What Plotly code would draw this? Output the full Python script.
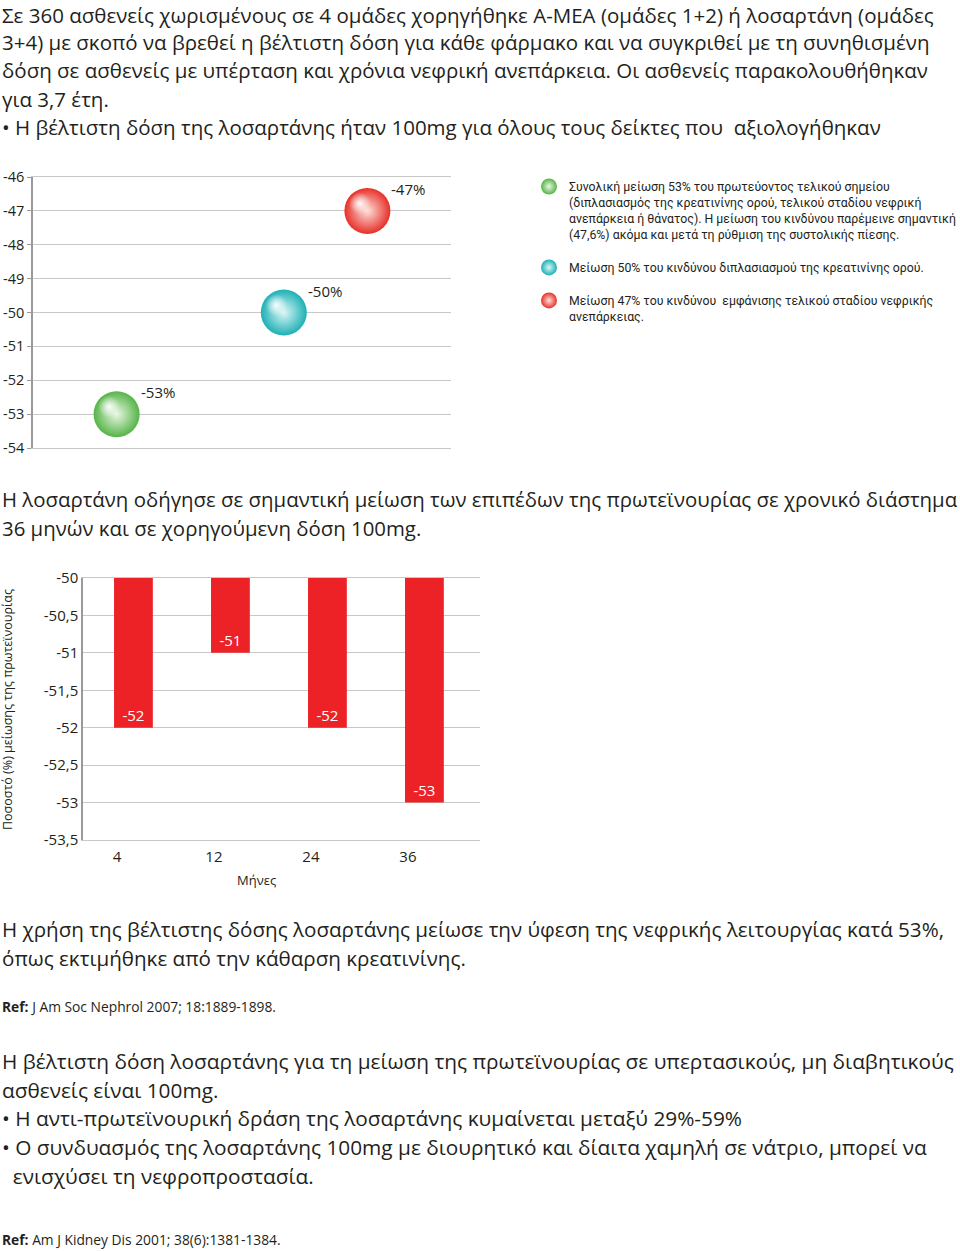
import plotly.graph_objects as go

W, H = 960, 1251
BODY_FONT = "Open Sans"
TEXT_COLOR = "#231f20"

# ---------------- data: chart 1 (outcome reductions) ----------------
outcome_x = [1, 3, 4]
outcome_vals = [-53, -50, -47]
outcome_labels = ["-53%", "-50%", "-47%"]
outcome_names = [
    "Συνολική μείωση 53% του πρωτεύοντος τελικού σημείου<br>"
    "(διπλασιασμός της κρεατινίνης ορού, τελικού σταδίου νεφρική<br>"
    "ανεπάρκεια ή θάνατος). Η μείωση του κινδύνου παρέμεινε σημαντική<br>"
    "(47,6%) ακόμα και μετά τη ρύθμιση της συστολικής πίεσης.",
    "Μείωση 50% του κινδύνου διπλασιασμού της κρεατινίνης ορού.",
    "Μείωση 47% του κινδύνου  εμφάνισης τελικού σταδίου νεφρικής<br>ανεπάρκειας.",
]
chart1_tickvals = [-46, -47, -48, -49, -50, -51, -52, -53, -54]
chart1_ticktext = ["-46", "-47", "-48", "-49", "-50", "-51", "-52", "-53", "-54"]

# ---------------- data: chart 2 (proteinuria reduction) ----------------
months = ["4", "12", "24", "36"]
proteinuria = [-52, -51, -52, -53]
bar_labels = ["-52", "-51", "-52", "-53"]
chart2_tickvals = [-50, -50.5, -51, -51.5, -52, -52.5, -53, -53.5]
chart2_ticktext = ["-50", "-50,5", "-51", "-51,5", "-52", "-52,5", "-53", "-53,5"]

# ---------------- text blocks ----------------
top_lines = [
    "Σε 360 ασθενείς χωρισμένους σε 4 ομάδες χορηγήθηκε Α-ΜΕΑ (ομάδες 1+2) ή λοσαρτάνη (ομάδες",
    "3+4) με σκοπό να βρεθεί η βέλτιστη δόση για κάθε φάρμακο και να συγκριθεί με τη συνηθισμένη",
    "δόση σε ασθενείς με υπέρταση και χρόνια νεφρική ανεπάρκεια. Οι ασθενείς παρακολουθήθηκαν",
    "για 3,7 έτη.",
    "• Η βέλτιστη δόση της λοσαρτάνης ήταν 100mg για όλους τους δείκτες που  αξιολογήθηκαν",
]
mid_lines = [
    "Η λοσαρτάνη οδήγησε σε σημαντική μείωση των επιπέδων της πρωτεϊνουρίας σε χρονικό διάστημα",
    "36 μηνών και σε χορηγούμενη δόση 100mg.",
]
low_lines = [
    "Η χρήση της βέλτιστης δόσης λοσαρτάνης μείωσε την ύφεση της νεφρικής λειτουργίας κατά 53%,",
    "όπως εκτιμήθηκε από την κάθαρση κρεατινίνης.",
]
ref1 = "<b>Ref:</b> J Am Soc Nephrol 2007; 18:1889-1898."
bottom_lines = [
    "Η βέλτιστη δόση λοσαρτάνης για τη μείωση της πρωτεϊνουρίας σε υπερτασικούς, μη διαβητικούς",
    "ασθενείς είναι 100mg.",
    "• Η αντι-πρωτεϊνουρική δράση της λοσαρτάνης κυμαίνεται μεταξύ 29%-59%",
    "• Ο συνδυασμός της λοσαρτάνης 100mg με διουρητικό και δίαιτα χαμηλή σε νάτριο, μπορεί να",
    "  ενισχύσει τη νεφροπροστασία.",
]
ref2 = "<b>Ref:</b> Am J Kidney Dis 2001; 38(6):1381-1384."

# ---------------- styles ----------------
sphere_edge = ["#55b447", "#1db0b5", "#e63029"]
sphere_center = ["#e9f7e4", "#dcf7f7", "#ffe0da"]
BAR_COLOR = "#ec2227"
GRID = "#c8c8c8"
AXIS = "#9a9a9a"


def px(x):
    return x / W


def py(y):
    return 1 - y / H


fig = go.Figure()

# chart 1 spheres
for i in range(len(outcome_vals)):
    fig.add_trace(go.Scatter(
        x=[outcome_x[i]], y=[outcome_vals[i]],
        mode="markers",
        marker=dict(size=46, color=sphere_edge[i],
                    gradient=dict(type="radial", color=sphere_center[i]),
                    line=dict(width=0)),
        name=outcome_names[i], legendgroup="g%d" % i,
        xaxis="x", yaxis="y", cliponaxis=False,
        hoverinfo="skip",
    ))
    fig.add_annotation(x=outcome_x[i], y=outcome_vals[i], xref="x", yref="y",
                       text=outcome_labels[i], showarrow=False,
                       xanchor="left", yanchor="middle", xshift=22, yshift=22,
                       font=dict(size=15, family=BODY_FONT, color=TEXT_COLOR))
# highlight on spheres (overlay axes shifted)
for i in range(len(outcome_vals)):
    fig.add_trace(go.Scatter(
        x=[outcome_x[i]], y=[outcome_vals[i]],
        mode="markers",
        marker=dict(size=22, color="rgba(255,255,255,0)",
                    gradient=dict(type="radial", color="rgba(255,255,255,0.95)"),
                    line=dict(width=0)),
        showlegend=False, xaxis="x3", yaxis="y3", hoverinfo="skip",
        cliponaxis=False,
    ))

# chart 2 bars
fig.add_trace(go.Bar(
    x=months, y=proteinuria,
    marker=dict(color=BAR_COLOR, line=dict(width=0)),
    width=0.40, offset=-0.03,
    text=bar_labels, textposition="inside", insidetextanchor="end",
    textfont=dict(size=15, family=BODY_FONT, color="white"),
    xaxis="x2", yaxis="y2", showlegend=False, hoverinfo="skip",
))

x1dom = [px(33), px(451)]
y1dom = [py(448), py(177)]
x1rng = [0, 5]
y1rng = [-54, -46]
shift_x = 0.09
shift_y = 0.22

fig.update_layout(
    width=W, height=H,
    margin=dict(l=0, r=0, t=0, b=0, autoexpand=False),
    paper_bgcolor="white", plot_bgcolor="white",
    font=dict(family=BODY_FONT, color=TEXT_COLOR, size=13),
    showlegend=True,
    legend=dict(x=px(529), y=py(172), xanchor="left", yanchor="top",
                font=dict(family="Roboto", size=12.3, color=TEXT_COLOR),
                valign="top", tracegroupgap=14, itemwidth=30,
                bgcolor="rgba(0,0,0,0)", itemclick=False),
    xaxis=dict(domain=x1dom, range=x1rng, showgrid=False, zeroline=False,
               showticklabels=False, showline=True, linecolor=GRID, mirror=True,
               fixedrange=True),
    yaxis=dict(domain=y1dom, range=y1rng, tickvals=chart1_tickvals, ticktext=chart1_ticktext,
               showgrid=True, gridcolor=GRID, gridwidth=1, zeroline=False,
               showline=True, linecolor=AXIS, linewidth=1.5, ticks="outside", ticklen=4,
               tickcolor=AXIS, tickfont=dict(size=14.5, family=BODY_FONT), fixedrange=True),
    xaxis3=dict(domain=x1dom, range=[x1rng[0] + shift_x, x1rng[1] + shift_x], overlaying="x",
                visible=False, fixedrange=True, anchor="y3"),
    yaxis3=dict(domain=y1dom, range=[y1rng[0] - shift_y, y1rng[1] - shift_y], overlaying="y",
                visible=False, fixedrange=True, anchor="x3"),
    xaxis2=dict(domain=[px(83), px(480)], type="category", categoryarray=months,
                range=[-0.35, 3.743], showgrid=False, zeroline=False,
                showline=True, linecolor=GRID, mirror=True, ticks="",
                tickfont=dict(size=15, family=BODY_FONT), ticklabelstandoff=3,
                anchor="y2", fixedrange=True),
    yaxis2=dict(domain=[py(840), py(578)], range=[-53.5, -50], tickvals=chart2_tickvals,
                ticktext=chart2_ticktext, showgrid=True, gridcolor=GRID, zeroline=False,
                showline=True, linecolor=AXIS, linewidth=1.5, ticks="",
                tickfont=dict(size=15, family=BODY_FONT), anchor="x2", fixedrange=True),
)


def add_text(text, x, y, size, family=BODY_FONT, angle=0, xanchor="left"):
    fig.add_annotation(text=text, x=px(x), y=py(y), xref="paper", yref="paper",
                       xanchor=xanchor, yanchor="middle", showarrow=False, textangle=angle,
                       font=dict(size=size, family=family, color=TEXT_COLOR), align="left")


for t, y in zip(top_lines, [15, 42, 70, 99, 127]):
    add_text(t, 0, y, 20.5)
for t, y in zip(mid_lines, [499, 528]):
    add_text(t, 0, y, 20.4)
for t, y in zip(low_lines, [929, 958]):
    add_text(t, 0, y, 20.6)
add_text(ref1, 0, 1006, 13.8)
for t, y in zip(bottom_lines, [1061, 1090, 1118, 1147, 1176]):
    add_text(t, 0, y, 20.8)
add_text(ref2, 0, 1239, 13.8)

# chart 2 axis titles
add_text("Ποσοστό (%) μείωσης της πρωτεϊνουρίας", 8, 710, 12.5, angle=-90, xanchor="center")
add_text("Μήνες", 256, 880, 13, xanchor="center")

fig.write_html("out.html")
